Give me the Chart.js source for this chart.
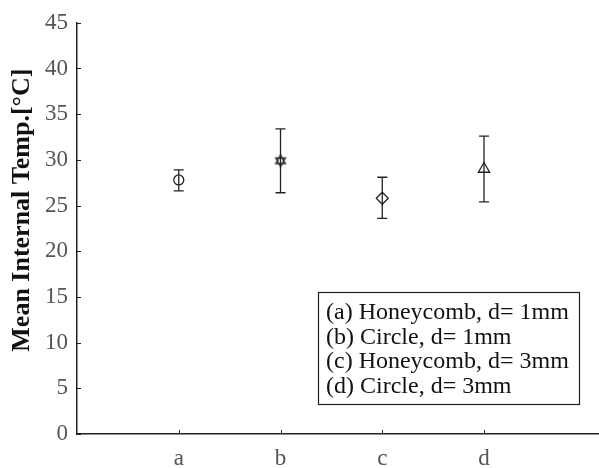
<!DOCTYPE html>
<html>
<head>
<meta charset="utf-8">
<script src="https://cdn.jsdelivr.net/npm/chart.js@4/dist/chart.umd.min.js"></script>
<style>
  body { margin: 0; background: #fff; }
  #wrap { width: 599px; height: 468px; }
</style>
</head>
<body>
<div id="wrap"><canvas id="myChart" width="599" height="468"></canvas></div>
<script>
// datos
const categories = ['a', 'b', 'c', 'd'];
const means = [27.8, 29.9, 25.8, 29.0];
const lower = [26.6, 26.4, 23.6, 25.4];
const upper = [28.9, 33.4, 28.1, 32.6];
const yTicks = [0, 5, 10, 15, 20, 25, 30, 35, 40, 45];
const yTitle = 'Mean Internal Temp.[°C]';
const notes = [
    '(a) Honeycomb, d= 1mm',
    '(b) Circle, d= 1mm',
    '(c) Honeycomb, d= 3mm',
    '(d) Circle, d= 3mm'
];

const serif = '"Liberation Serif", "Times New Roman", serif';
const ink = '#222';

// marcador hexagrama (estrella de 6 puntas) como en MATLAB
const makeHexagram = () => {
    const c = document.createElement('canvas');
    c.width = 14; c.height = 14;
    const g = c.getContext('2d');
    g.strokeStyle = ink;
    g.lineWidth = 1.3;
    const cx = 7, cy = 7, r = 5.6;
    for (let k = 0; k < 2; k++) {
        g.beginPath();
        for (let j = 0; j < 3; j++) {
            const a = -Math.PI / 2 + k * Math.PI + j * 2 * Math.PI / 3;
            const px = cx + r * Math.cos(a), py = cy + r * Math.sin(a);
            if (j === 0) g.moveTo(px, py); else g.lineTo(px, py);
        }
        g.closePath();
        g.stroke();
    }
    return c;
};

// barras de error + marcas internas de los ejes + título del eje y
const errorBars = {
    id: 'errorBars',
    beforeDatasetsDraw(chart) {
        const { ctx, scales: { x, y } } = chart;
        ctx.save();
        ctx.strokeStyle = ink;
        ctx.lineWidth = 1.3;
        means.forEach((m, i) => {
            const px = x.getPixelForValue(i + 1);
            const top = y.getPixelForValue(upper[i]);
            const bot = y.getPixelForValue(lower[i]);
            ctx.beginPath();
            ctx.moveTo(px, top); ctx.lineTo(px, bot);
            ctx.moveTo(px - 5, top); ctx.lineTo(px + 5, top);
            ctx.moveTo(px - 5, bot); ctx.lineTo(px + 5, bot);
            ctx.stroke();
        });
        ctx.restore();
    },
    afterDraw(chart) {
        const { ctx, scales: { x, y }, chartArea } = chart;
        ctx.save();
        ctx.strokeStyle = ink;
        ctx.lineWidth = 1;
        yTicks.forEach(v => {
            const py = Math.round(y.getPixelForValue(v)) + 0.5;
            ctx.beginPath();
            ctx.moveTo(chartArea.left, py); ctx.lineTo(chartArea.left + 4, py);
            ctx.stroke();
        });
        categories.forEach((c, i) => {
            const px = Math.round(x.getPixelForValue(i + 1)) + 0.5;
            ctx.beginPath();
            ctx.moveTo(px, chartArea.bottom); ctx.lineTo(px, chartArea.bottom - 4);
            ctx.stroke();
        });
        // título vertical, algo por encima del centro como en el original
        ctx.translate(22, y.getPixelForValue(24.5));
        ctx.rotate(-Math.PI / 2);
        ctx.fillStyle = '#111';
        ctx.font = 'bold 26px ' + serif;
        ctx.textAlign = 'center';
        ctx.textBaseline = 'middle';
        ctx.fillText(yTitle, 0, 0);
        ctx.restore();
    }
};

// cuadro de texto con la leyenda
const noteBox = {
    id: 'noteBox',
    afterDraw(chart) {
        const { ctx, chartArea } = chart;
        const w = 261, h = 112;
        const right = chartArea.right - 20, bottom = chartArea.bottom - 30;
        const left = right - w, top = bottom - h;
        ctx.save();
        ctx.fillStyle = '#fff';
        ctx.fillRect(left, top, w, h);
        ctx.strokeStyle = ink;
        ctx.lineWidth = 1.2;
        ctx.strokeRect(left + 0.5, top + 0.5, w, h);
        ctx.fillStyle = '#111';
        ctx.font = '24px ' + serif;
        ctx.textBaseline = 'middle';
        ctx.textAlign = 'left';
        notes.forEach((t, i) => {
            ctx.fillText(t, left + 8, top + 21 + i * 24.5);
        });
        ctx.restore();
    }
};

const points = means.map((m, i) => ({ x: i + 1, y: m }));

new Chart(document.getElementById('myChart').getContext('2d'), {
    type: 'scatter',
    data: {
        datasets: [{
            data: points,
            pointStyle: ['circle', makeHexagram(), 'rectRot', 'triangle'],
            radius: [5, 7, 6, 6.5],
            borderColor: ink,
            backgroundColor: 'rgba(0,0,0,0)',
            borderWidth: 1.3,
            showLine: false
        }]
    },
    options: {
        responsive: false,
        animation: false,
        layout: { autoPadding: false, padding: { top: 19, right: 0, left: 0, bottom: 0 } },
        plugins: {
            legend: { display: false },
            tooltip: { enabled: false }
        },
        scales: {
            x: {
                type: 'linear',
                min: 0,
                max: 5.13,
                afterBuildTicks: s => { s.ticks = categories.map((c, i) => ({ value: i + 1 })); },
                afterFit: s => { s.height = 34; },
                grid: { display: false, drawTicks: false },
                border: { color: ink, width: 1.5 },
                ticks: {
                    autoSkip: false,
                    maxRotation: 0,
                    padding: 11,
                    color: '#555',
                    font: { family: serif, size: 23 },
                    callback: v => categories[v - 1]
                }
            },
            y: {
                min: 0,
                max: 45,
                afterBuildTicks: s => { s.ticks = yTicks.map(v => ({ value: v })); },
                afterFit: s => { s.width = 77; },
                grid: { display: false, drawTicks: false },
                border: { color: ink, width: 1.5 },
                ticks: {
                    padding: 9,
                    color: '#555',
                    font: { family: serif, size: 23 }
                }
            }
        }
    },
    plugins: [errorBars, noteBox]
});
</script>
</body>
</html>
